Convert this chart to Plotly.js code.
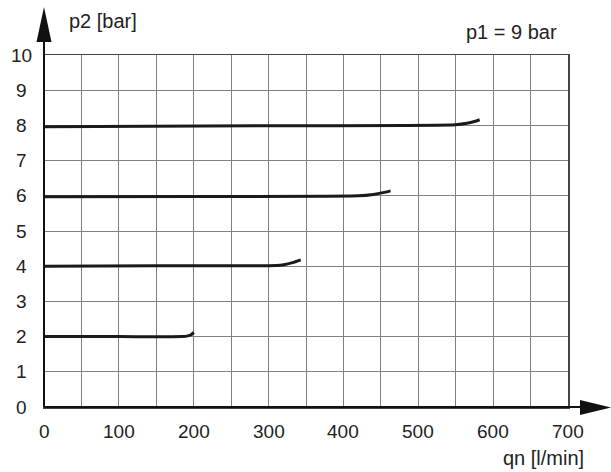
<!DOCTYPE html>
<html><head><meta charset="utf-8">
<script src="https://cdn.plot.ly/plotly-3.0.1.min.js"></script>
<style>html,body{margin:0;padding:0;background:#fff;}#chart{width:611px;height:472px;}</style>
</head><body><div id="chart"></div>
<script>
// Data
const curveLabels = ["p2 = 2", "p2 = 4", "p2 = 6", "p2 = 8"];
const q2 = [0, 100, 185, 192, 197, 200];
const p2 = [2.0, 2.0, 2.0, 2.02, 2.06, 2.12];
const q4 = [0, 150, 310, 322, 332, 343];
const p4 = [4.0, 4.01, 4.02, 4.05, 4.10, 4.18];
const q6 = [0, 200, 420, 440, 453, 463];
const p6 = [5.97, 5.98, 6.0, 6.04, 6.09, 6.14];
const q8 = [0, 300, 550, 565, 575, 582];
const p8 = [7.96, 7.99, 8.02, 8.06, 8.11, 8.16];
const xTicks = [0, 100, 200, 300, 400, 500, 600, 700];
const yTicks = [0, 1, 2, 3, 4, 5, 6, 7, 8, 9, 10];

const W = 611, H = 472;
const M = {l: 44, r: 43, t: 55, b: 65};
const PW = W - M.l - M.r, PH = H - M.t - M.b;
const px = x => (x - M.l) / PW;
const py = y => (H - M.b - y) / PH;

const fam = "Liberation Sans, Arial, sans-serif";
const tickFont = {family: fam, size: 19, color: "#222"};
const titleFont = {family: fam, size: 20, color: "#222"};
const xs = [q2, q4, q6, q8], ys = [p2, p4, p6, p8];
const traces = xs.map((x, i) => ({
  x: x, y: ys[i], name: curveLabels[i], type: "scatter", mode: "lines",
  line: {color: "#1a1a1a", width: 3, shape: "spline", smoothing: 0.6},
  hoverinfo: "skip", showlegend: false
}));

const annotations = [];
yTicks.forEach(v => annotations.push({
  xref: "paper", yref: "y", x: 0, y: v, xshift: -23, xanchor: "center", yanchor: "middle",
  text: String(v), showarrow: false, font: tickFont
}));
xTicks.forEach(v => annotations.push({
  xref: "x", yref: "paper", x: v, y: 0, yshift: -24, xanchor: "center", yanchor: "middle",
  text: String(v), showarrow: false, font: tickFont
}));
annotations.push({xref: "paper", yref: "paper", x: px(67), y: py(21), xanchor: "left", yanchor: "middle",
  text: "p2 [bar]", showarrow: false, font: titleFont});
annotations.push({xref: "paper", yref: "paper", x: px(559), y: py(32), xanchor: "right", yanchor: "middle",
  text: "p1 = 9 bar", showarrow: false, font: titleFont});
annotations.push({xref: "paper", yref: "paper", x: px(586), y: py(458), xanchor: "right", yanchor: "middle",
  text: "qn [l/min]", showarrow: false, font: titleFont});

const shapes = [
  {type: "line", xref: "paper", yref: "paper", x0: 0, y0: 0, x1: 0, y1: py(40), line: {color: "#111", width: 2}},
  {type: "path", xref: "paper", yref: "paper",
   path: `M ${px(36.5)} ${py(42)} L ${px(44)} ${py(7)} L ${px(51.5)} ${py(42)} Z`,
   fillcolor: "#111", line: {color: "#111", width: 0}},
  {type: "line", xref: "paper", yref: "paper", x0: 0, y0: 0, x1: px(582), y1: 0, line: {color: "#111", width: 2}},
  {type: "path", xref: "paper", yref: "paper",
   path: `M ${px(580)} ${py(400)} L ${px(611)} ${py(407.5)} L ${px(580)} ${py(415)} Z`,
   fillcolor: "#111", line: {color: "#111", width: 0}}
];

const layout = {
  width: W, height: H, margin: M, paper_bgcolor: "#fff", plot_bgcolor: "#fff",
  showlegend: false, font: tickFont,
  xaxis: {range: [0, 700], dtick: 50, tick0: 0, showgrid: true, gridcolor: "#808080", gridwidth: 1,
    showticklabels: false, ticks: "", zeroline: false, showline: true, linecolor: "#444", linewidth: 1.5, mirror: true, fixedrange: true},
  yaxis: {range: [0, 10], dtick: 1, tick0: 0, showgrid: true, gridcolor: "#808080", gridwidth: 1,
    showticklabels: false, ticks: "", zeroline: false, showline: true, linecolor: "#444", linewidth: 1.5, mirror: true, fixedrange: true},
  annotations: annotations, shapes: shapes
};
Plotly.newPlot("chart", traces, layout, {staticPlot: true, displayModeBar: false});
</script></body></html>
